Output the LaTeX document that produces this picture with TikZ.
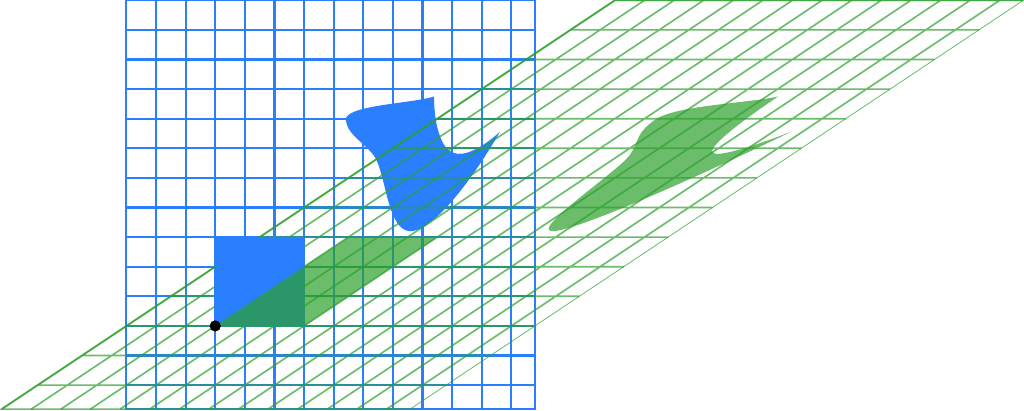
\documentclass[tikz,border=0pt]{standalone}
\usepackage{xcolor}
\usepackage{tikz}
\definecolor{plBlue}{RGB}{ 42,127,255}
\definecolor{plGreen}{RGB}{ 44,160, 44}
\newcommand{\blobpath}{(7.39,7.75) .. controls (6.6,7.5) and (4.2,7.45) .. (4.42,6.9)
  .. controls (4.5,6.4) and (5.2,6.1) .. (5.45,5.6)
  .. controls (5.8,4.8) and (5.85,3.3) .. (6.55,3.2)
  .. controls (7.3,3.15) and (8.6,4.8) .. (9.62,6.56)
  .. controls (9.0,6.0) and (8.4,5.7) .. (8.04,5.85)
  .. controls (7.7,5.95) and (7.4,6.6) .. cycle}

\begin{document}
\begin{tikzpicture}[
  scale=0.5,
  bgrid/.style={draw=plBlue, line width=1.05pt},
  ggrid/.style={draw=plGreen, draw opacity=0.7, line width=0.8pt},
  bfill/.style={fill=plBlue},
  gfill/.style={fill=plGreen, fill opacity=0.7},
  dot/.style={circle, fill=black, inner sep=0pt, minimum size=5.4pt}
]
\useasboundingbox (-7.27,-2.87) rectangle (27.32,11.01);

% original plane
\draw[bgrid] (-3,-2.81) grid (10.8,11);
\draw[bgrid] (-3,-2.81) rectangle (10.8,11);
\fill[bfill] \blobpath;

% sheared plane
\begin{scope}[xslant=1.5]
\draw[ggrid] (-3,-2.81) grid (10.8,11);
\draw[ggrid] (10.8,11) -- (-3,11) -- (-3,-2.81) -- (10.8,-2.81);
\draw[ggrid, line width=0.4pt] (10.8,-2.81) -- (10.8,11);
\end{scope}

\fill[bfill] (0,0) rectangle (3,3);
\begin{scope}[xslant=1.5]
\fill[gfill] (0,0) rectangle (3,3);
\fill[gfill] \blobpath;
\end{scope}

\node[dot] (o) at (0,0) {};
\end{tikzpicture}
\end{document}
